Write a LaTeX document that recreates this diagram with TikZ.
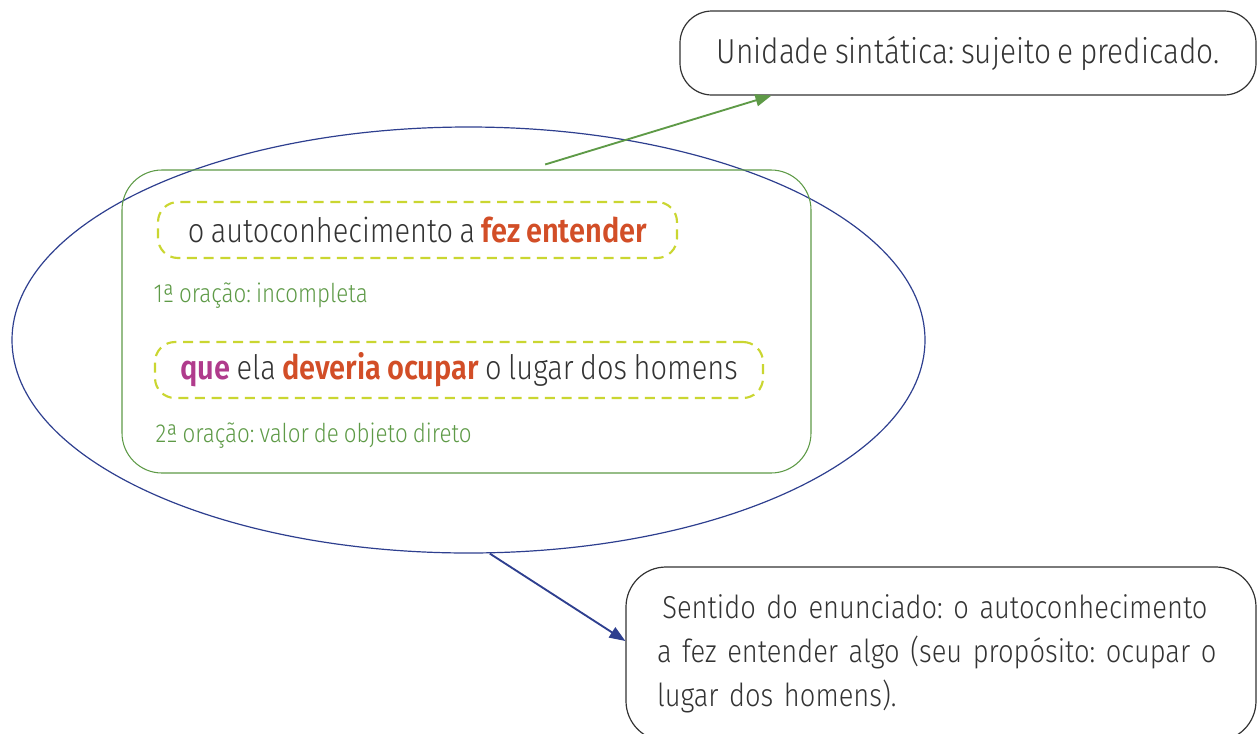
\documentclass[tikz,border=0pt]{standalone}
\usepackage{fontspec}
\setmainfont{Fira Sans}[UprightFont=* Light, BoldFont=* SemiBold, FakeStretch=0.86, WordSpace=0.8]
\frenchspacing
\usetikzlibrary{shapes.geometric,arrows.meta,positioning}

\definecolor{ovalblue}{HTML}{2E3F8F}
\definecolor{framegreen}{HTML}{5E9A47}
\definecolor{dashyellow}{HTML}{CAD631}
\definecolor{verbred}{HTML}{D24E27}
\definecolor{quepink}{HTML}{B03B8C}
\definecolor{textgray}{HTML}{333333}

\tikzset{
    callout/.style={draw=textgray,line width=0.9pt,rounded corners=24pt,text=textgray,font=\fontsize{26}{33}\selectfont},
    clausebox/.style={draw=dashyellow,line width=1.6pt,dash pattern=on 7.5pt off 5pt,rounded corners=15pt,minimum height=42pt,text=textgray,font=\fontsize{25.3}{30}\selectfont},
    note/.style={anchor=west,text=framegreen,font=\fontsize{19.5}{22}\selectfont}
}

\begin{document}
\begin{tikzpicture}[x=0.75pt,y=-0.75pt]
        \useasboundingbox (0,0) rectangle (1257,733);
        \clip (0,0) rectangle (1257,733);

        % the sentence and its two clauses
        \node[ellipse,draw=ovalblue,line width=0.9pt,minimum width=684.75pt,minimum height=319.5pt] (oval) at (468.5,340) {};
        \node[draw=framegreen,line width=0.8pt,rounded corners=30pt,minimum width=516.75pt,minimum height=227.25pt] (frame) at (466.5,321.5) {};

        \node[clausebox,minimum width=389.25pt] (first) at (417.5,230) {o autoconhecimento a \textbf{\color{verbred}fez entender}};
        \node[note] (firstnote) at (149,296) {1ª oração: incompleta};

        \node[clausebox,minimum width=456pt] (second) at (459,370) {\textbf{\color{quepink}que} ela \textbf{\color{verbred}deveria ocupar} o lugar dos homens};
        \node[note] (secondnote) at (151,436) {2ª oração: valor de objeto direto};

        % explanations
        \node[callout,minimum width=432pt,minimum height=63pt] (unit) at (968,53) {Unidade sintática: sujeito e predicado.};
        \node[callout,rounded corners=30pt,font=\fontsize{23.8}{33}\selectfont,minimum width=472.5pt,minimum height=130.5pt,text width=426pt,align=left] (sense) at (941,654)
            {\hspace{4pt}Sentido do enunciado: o autoconhecimento\\a fez entender algo (seu propósito: ocupar o\\lugar dos homens).};

        \draw[-{Triangle[length=12pt,width=9pt]},framegreen,line width=1.4pt] ([xshift=59pt,yshift=3.75pt]frame.north) -- ([xshift=69pt]unit.south west);
        \draw[-{Triangle[length=12pt,width=9pt]},ovalblue,line width=1.4pt] ([xshift=16pt]oval.south) -- ([yshift=9.75pt]sense.west);
    \end{tikzpicture}
\end{document}
